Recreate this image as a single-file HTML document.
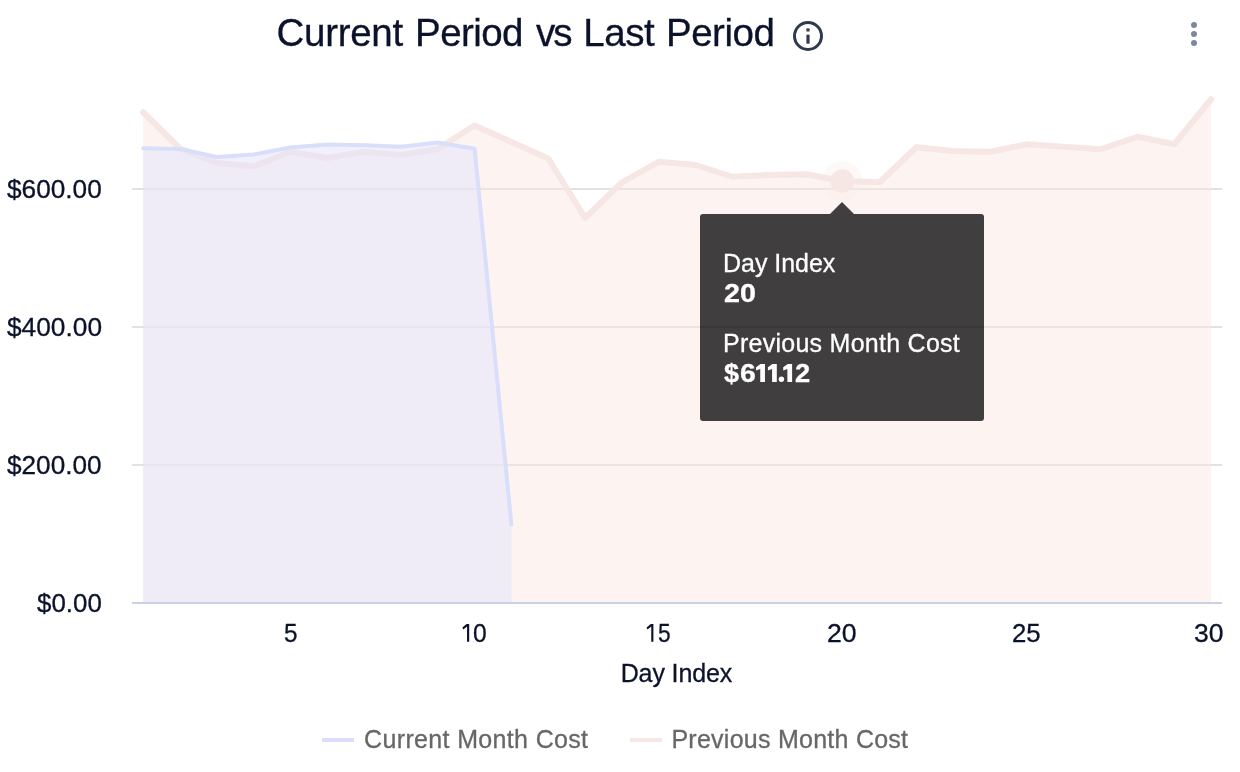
<!DOCTYPE html>
<html lang="en">
<head>
<meta charset="utf-8">
<title>Current Period vs Last Period</title>
<style>
html,body{margin:0;padding:0;background:#fff;}
body{width:1240px;height:772px;position:relative;overflow:hidden;font-family:"Liberation Sans",sans-serif;color:#0b132b;}
#chart{position:absolute;left:0;top:0;}
.t{position:absolute;left:0;top:0;width:1240px;height:772px;will-change:transform;}
.t div{position:absolute;white-space:nowrap;line-height:1;transform-origin:0 0;-webkit-text-stroke:0.3px currentColor;}
.t .g{left:0;top:0;}
.T{font-size:38.5px;}
.s{font-size:25px;}
.b{font-weight:bold;}
.h{color:transparent;}
.lg{color:#676767;}
.tp{color:#fff;}
#tipbox{position:absolute;left:700px;top:214px;width:284px;height:207px;background:#403e3f;border-radius:3px;}
#tipbox:before{content:"";position:absolute;left:130px;top:-12px;border-left:12px solid transparent;border-right:12px solid transparent;border-bottom:12px solid #403e3f;}
#tipbox:after{content:"";position:absolute;left:0;top:112px;width:284px;height:2px;background:rgba(0,0,0,0.09);}
</style>
</head>
<body>
<svg id="chart" width="1240" height="772" viewBox="0 0 1240 772">
  <g stroke="#e2e2e2" stroke-width="2">
    <line x1="132" x2="1222" y1="189" y2="189"/>
    <line x1="132" x2="1222" y1="327" y2="327"/>
    <line x1="132" x2="1222" y1="465" y2="465"/>
  </g>
  <path d="M143.15,602 L143.15,112.25 L179.98,148.50 L216.80,163.00 L253.62,166.25 L290.45,151.75 L327.27,158.00 L364.10,151.75 L400.93,155.00 L437.75,149.00 L474.58,125.50 L511.40,142.00 L548.23,158.50 L585.05,217.90 L621.88,182.50 L658.70,161.75 L695.52,165.00 L732.35,176.75 L769.18,175.00 L806.00,174.25 L842.83,181.00 L879.65,182.25 L916.48,147.25 L953.30,151.10 L990.12,151.75 L1026.95,144.25 L1063.78,146.75 L1100.60,149.25 L1137.43,136.75 L1174.25,144.25 L1211.08,99.25 L1211.08,602 Z" fill="#fbe7e2" fill-opacity="0.45"/>
  <polyline points="143.15,112.25 179.98,148.50 216.80,163.00 253.62,166.25 290.45,151.75 327.27,158.00 364.10,151.75 400.93,155.00 437.75,149.00 474.58,125.50 511.40,142.00 548.23,158.50 585.05,217.90 621.88,182.50 658.70,161.75 695.52,165.00 732.35,176.75 769.18,175.00 806.00,174.25 842.83,181.00 879.65,182.25 916.48,147.25 953.30,151.10 990.12,151.75 1026.95,144.25 1063.78,146.75 1100.60,149.25 1137.43,136.75 1174.25,144.25 1211.08,99.25" fill="none" stroke="#f6e6e4" stroke-width="6" stroke-linejoin="round" stroke-linecap="round"/>
  <path d="M143.15,602 L143.15,148.25 L179.98,149.00 L216.80,157.00 L253.62,154.50 L290.45,147.50 L327.27,144.50 L364.10,145.25 L400.93,146.75 L437.75,142.50 L474.58,148.75 L511.40,524.60 L511.40,602 Z" fill="#e1e3fb" fill-opacity="0.5"/>
  <polyline points="143.15,148.25 179.98,149.00 216.80,157.00 253.62,154.50 290.45,147.50 327.27,144.50 364.10,145.25 400.93,146.75 437.75,142.50 474.58,148.75 511.40,524.60" fill="none" stroke="#d9defb" stroke-width="4" stroke-linejoin="round" stroke-linecap="round"/>
  <line x1="132" x2="1222" y1="603" y2="603" stroke="#c9d1e6" stroke-width="2"/>
  <circle cx="842.2" cy="181" r="20" fill="#f6e6e4" fill-opacity="0.25"/>
  <circle cx="842.2" cy="181" r="11.8" fill="#f6e6e4"/>
  <line x1="322" x2="354" y1="740" y2="740" stroke="#d9defb" stroke-width="4"/>
  <line x1="630" x2="662" y1="740" y2="740" stroke="#f6e6e4" stroke-width="4"/>
  <polygon fill="#0b132b" points="469.20,624.00 469.20,641.80 467.05,641.80 467.05,626.60 463.30,629.40 462.35,627.50 466.60,624.00"/><polygon fill="#0b132b" points="653.40,624.00 653.40,641.80 651.25,641.80 651.25,626.60 647.50,629.40 646.55,627.50 650.80,624.00"/>
  <g>
    <circle cx="808" cy="36" r="13.5" fill="none" stroke="#2f3a4f" stroke-width="3"/>
    <rect x="806.4" y="28.4" width="3.2" height="3.1" fill="#2f3a4f"/>
    <rect x="806.4" y="34.7" width="3.2" height="9" fill="#2f3a4f"/>
  </g>
  <g fill="#7c879c">
    <circle cx="1194" cy="25" r="3"/>
    <circle cx="1194" cy="34" r="3"/>
    <circle cx="1194" cy="43" r="3"/>
  </g>
</svg>
<div class="t" id="title">
  <div class="T" style="left:276.62px;top:14.41px;letter-spacing:-0.305px;">Current</div>
  <div class="T" style="left:415.04px;top:14.41px;letter-spacing:-0.572px;">Period</div>
  <div class="T" style="left:536.07px;top:14.41px;letter-spacing:-2.080px;">vs</div>
  <div class="T" style="left:583.34px;top:14.41px;letter-spacing:-0.437px;">Last</div>
  <div class="T" style="left:665.94px;top:14.41px;letter-spacing:-0.454px;">Period</div>
</div>
<div class="t" id="yaxis">
  <div class="s" style="left:6.59px;top:176.64px;transform:scaleX(1.0488);">$600.00</div>
  <div class="s" style="left:6.59px;top:314.63px;transform:scaleX(1.0513);">$400.00</div>
  <div class="s" style="left:6.59px;top:452.63px;transform:scaleX(1.0465);">$200.00</div>
  <div class="s" style="left:36.58px;top:590.63px;transform:scaleX(1.0365);">$0.00</div>
</div>
<div class="t" id="xaxis">
  <div class="s" style="left:283.61px;top:620.63px;transform:scaleX(0.9708);">5</div>
  <div class="g"><div class="s h" style="left:460.50px;top:620.63px;">1</div><div class="s" style="left:473.20px;top:620.63px;transform:scaleX(0.9860);">0</div></div>
  <div class="g"><div class="s h" style="left:644.70px;top:620.63px;">1</div><div class="s" style="left:657.73px;top:620.63px;transform:scaleX(0.9099);">5</div></div>
  <div class="s" style="left:827.26px;top:620.63px;transform:scaleX(1.0659);">20</div>
  <div class="s" style="left:1012.19px;top:620.63px;transform:scaleX(1.0302);">25</div>
  <div class="s" style="left:1194.44px;top:620.63px;transform:scaleX(1.0606);">30</div>
  <div class="s" style="left:620.69px;top:660.84px;letter-spacing:-0.125px;">Day Index</div>
</div>
<div class="t" id="legend">
  <div class="s lg" style="left:364.07px;top:726.84px;letter-spacing:0.345px;">Current Month Cost</div>
  <div class="s lg" style="left:671.44px;top:726.84px;letter-spacing:0.254px;">Previous Month Cost</div>
</div>
<div id="tipbox"></div>
<div class="t" id="tiptext">
  <div class="s tp" style="left:722.99px;top:251.03px;letter-spacing:-0.024px;">Day Index</div>
  <div class="s b tp" style="left:724.04px;top:280.83px;transform:scaleX(1.1475);">20</div>
  <div class="s tp" style="left:722.99px;top:330.94px;letter-spacing:0.263px;">Previous Month Cost</div>
  <div class="g"><div class="s b tp" style="left:724.35px;top:360.83px;transform:scaleX(1.0803);">$</div><div class="s b tp" style="left:739.99px;top:360.83px;transform:scaleX(1.1310);">6</div><div class="s h b" style="left:753.00px;top:360.83px;">1</div><div class="s h b" style="left:765.00px;top:360.83px;">1</div><div class="s h b" style="left:778.00px;top:360.83px;">.</div><div class="s h b" style="left:781.00px;top:360.83px;">1</div><div class="s b tp" style="left:794.69px;top:360.83px;transform:scaleX(1.0922);">2</div></div>
</div>
<svg id="ov" width="1240" height="772" viewBox="0 0 1240 772" style="position:absolute;left:0;top:0;pointer-events:none;">
  <polygon fill="#fff" points="764.95,363.90 764.95,381.90 760.25,381.90 760.25,369.00 756.05,370.50 756.05,367.20 760.55,363.90"/><polygon fill="#fff" points="776.80,363.90 776.80,381.90 772.10,381.90 772.10,369.00 767.90,370.50 767.90,367.20 772.40,363.90"/><polygon fill="#fff" points="792.10,363.90 792.10,381.90 787.40,381.90 787.40,369.00 783.20,370.50 783.20,367.20 787.70,363.90"/><circle cx="781.4" cy="379.25" r="2.7" fill="#fff"/>
</svg>
</body>
</html>
